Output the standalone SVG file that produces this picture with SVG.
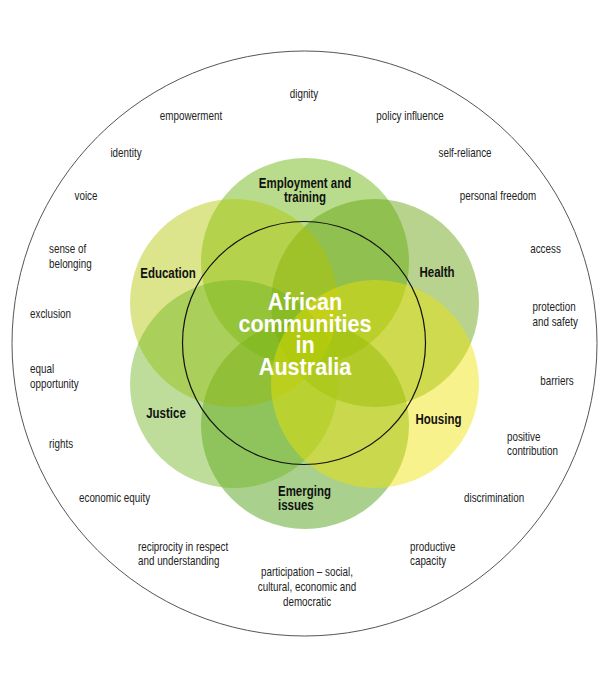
<svg xmlns="http://www.w3.org/2000/svg" width="600" height="674" viewBox="0 0 600 674">
<style>
text{font-family:"Liberation Sans",Arial,sans-serif}
.t{font-size:12px;fill:#222}
.m{text-anchor:middle}
.b{font-size:14px;font-weight:bold;fill:#111}
.c{font-size:24px;font-weight:bold;fill:#fff;text-anchor:middle}
.p{fill-opacity:0.45}
</style>
<rect width="600" height="674" fill="#fff"/>
<g id="outer"><circle cx="304.5" cy="343.5" r="292.5" fill="none" stroke="#555" stroke-width="1"/></g>
<g id="petals">
<g id="employment"><circle class="p" cx="305" cy="262" r="104" fill="#63b100"/></g>
<g id="health"><circle class="p" cx="375" cy="303" r="104" fill="#5f9d04"/></g>
<g id="emerging"><circle class="p" cx="305" cy="425" r="104" fill="#409700"/></g>
<g id="education"><circle class="p" cx="234" cy="303" r="104" fill="#b1c500"/></g>
<g id="justice"><circle class="p" cx="234" cy="384" r="104" fill="#6eb31e"/></g>
<g id="housing"><circle class="p" cx="375" cy="384" r="104" fill="#efe200"/></g>
</g>
<g id="inner"><circle cx="304" cy="343" r="121.5" fill="none" stroke="#111" stroke-width="1.2"/></g>
<g id="labels">
<text class="b m" transform="translate(305 188) scale(.82 1)">Employment and</text>
<text class="b m" transform="translate(305 202) scale(.82 1)">training</text>
<text class="b m" transform="translate(168 278) scale(.82 1)">Education</text>
<text class="b m" transform="translate(437 277) scale(.82 1)">Health</text>
<text class="b m" transform="translate(166 418) scale(.82 1)">Justice</text>
<text class="b m" transform="translate(438.5 424) scale(.82 1)">Housing</text>
<text class="b" transform="translate(278 496) scale(.82 1)">Emerging</text>
<text class="b" transform="translate(278 510) scale(.82 1)">issues</text>
</g>
<g id="centre">
<text class="c" transform="translate(305 310) scale(.9 1)">African</text>
<text class="c" transform="translate(305 331.5) scale(.9 1)">communities</text>
<text class="c" transform="translate(305 353) scale(.9 1)">in</text>
<text class="c" transform="translate(305 374.5) scale(.9 1)">Australia</text>
</g>
<g id="values">
<text class="t m" transform="translate(304 98) scale(.82 1)">dignity</text>
<text class="t m" transform="translate(191 120) scale(.82 1)">empowerment</text>
<text class="t m" transform="translate(410 120) scale(.82 1)">policy influence</text>
<text class="t m" transform="translate(126 157) scale(.82 1)">identity</text>
<text class="t m" transform="translate(465 157) scale(.82 1)">self-reliance</text>
<text class="t m" transform="translate(86 200) scale(.82 1)">voice</text>
<text class="t m" transform="translate(498 200) scale(.82 1)">personal freedom</text>
<text class="t" transform="translate(49 253) scale(.82 1)">sense of</text>
<text class="t" transform="translate(49 268) scale(.82 1)">belonging</text>
<text class="t m" transform="translate(545.5 253) scale(.82 1)">access</text>
<text class="t" transform="translate(30 318) scale(.82 1)">exclusion</text>
<text class="t" transform="translate(532.5 311) scale(.82 1)">protection</text>
<text class="t" transform="translate(532.5 326) scale(.82 1)">and safety</text>
<text class="t" transform="translate(30 373) scale(.82 1)">equal</text>
<text class="t" transform="translate(30 388) scale(.82 1)">opportunity</text>
<text class="t m" transform="translate(557 385) scale(.82 1)">barriers</text>
<text class="t" transform="translate(49 448) scale(.82 1)">rights</text>
<text class="t" transform="translate(507 441) scale(.82 1)">positive</text>
<text class="t" transform="translate(507 455) scale(.82 1)">contribution</text>
<text class="t" transform="translate(79 502) scale(.82 1)">economic equity</text>
<text class="t" transform="translate(464 502) scale(.82 1)">discrimination</text>
<text class="t" transform="translate(138 551) scale(.82 1)">reciprocity in respect</text>
<text class="t" transform="translate(138 565) scale(.82 1)">and understanding</text>
<text class="t" transform="translate(410 551) scale(.82 1)">productive</text>
<text class="t" transform="translate(410 565) scale(.82 1)">capacity</text>
<text class="t m" transform="translate(307 576) scale(.82 1)">participation – social,</text>
<text class="t m" transform="translate(307 591) scale(.82 1)">cultural, economic and</text>
<text class="t m" transform="translate(307 606) scale(.82 1)">democratic</text>
</g>
</svg>
